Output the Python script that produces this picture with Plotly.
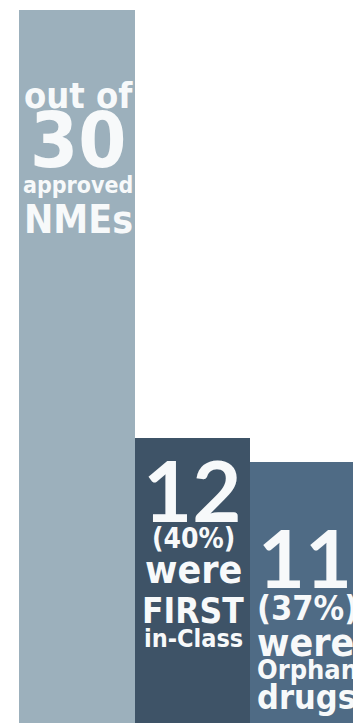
import plotly.graph_objects as go

# ---- data ----
categories = ["Approved NMEs", "First-in-Class", "Orphan drugs"]
counts = [30, 12, 11]
percent_labels = ["", "(40%)", "(37%)"]
bar_colors = ["#9cb0bc", "#3e5367", "#4f6b85"]

W, H = 353, 723
FONT = "DejaVu Sans Condensed, DejaVu Sans"
NUMFONT = "Lato, DejaVu Sans Condensed"
TXT = "#f7f9fa"

fig = go.Figure(go.Bar(
    x=[0, 1, 2], y=counts, width=1.0,
    marker=dict(color=bar_colors, line=dict(width=0)),
    hoverinfo="skip",
))

def px(x):
    return x / W

def py(y):
    return 1 - y / H

def ann(text, x, y, size, xanchor="center", weight="bold", family=FONT):
    fig.add_annotation(
        text=text, x=px(x), y=py(y), xref="paper", yref="paper",
        xanchor=xanchor, yanchor="middle", showarrow=False,
        font=dict(family=family, size=size, color=TXT, weight=weight),
    )

# bar 1
ann("out of", 78, 95.5, 36)
ann(str(counts[0]), 78, 141, 77)
ann("approved", 78, 185, 23)
ann("NMEs", 78, 219.5, 39)

# bar 2
ann(str(counts[1]), 192, 489, 85, family=NUMFONT)
ann(percent_labels[1], 193, 538, 28)
ann("were", 193, 569, 39)
ann("FIRST", 193, 611, 35)
ann("in-Class", 193, 638, 25)

# bar 3
ann(str(counts[2]), 256, 556, 81, xanchor="left", family=NUMFONT)
ann(percent_labels[2], 255, 608, 34, xanchor="left")
ann("were", 255, 642, 39, xanchor="left")
ann("Orphan", 255, 669, 27, xanchor="left")
ann("drugs", 255, 697, 34, xanchor="left")

unit = 115.5
x0 = -0.5 - 19 / unit
x1 = -0.5 + (W - 19) / unit
ytop = counts[0] * H / (H - 10)

fig.update_layout(
    width=W, height=H, autosize=False,
    margin=dict(l=0, r=0, t=0, b=0, pad=0),
    paper_bgcolor="white", plot_bgcolor="white",
    bargap=0, showlegend=False,
    xaxis=dict(visible=False, range=[x0, x1], fixedrange=True),
    yaxis=dict(visible=False, range=[0, ytop], fixedrange=True),
)

fig.write_html("out.html", config={"displayModeBar": False})
